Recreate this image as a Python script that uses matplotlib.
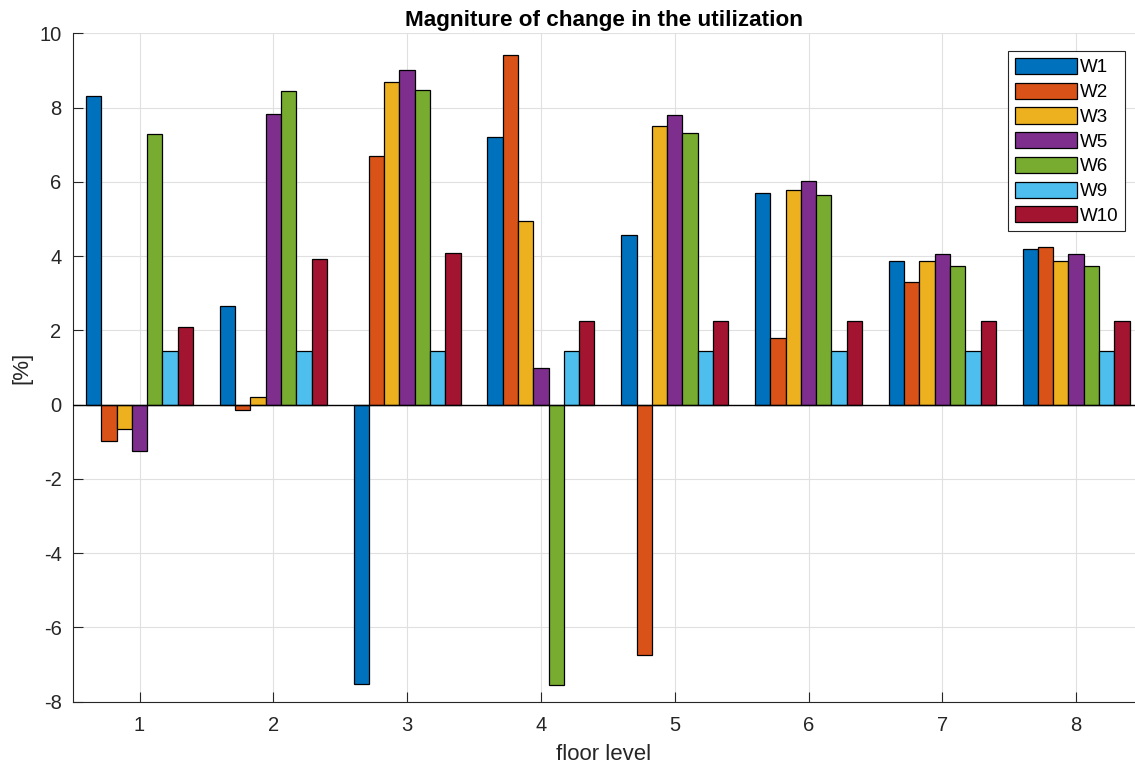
import numpy as np
import matplotlib
matplotlib.use("Agg")
import matplotlib.pyplot as plt

plt.rcParams['font.family'] = ['Liberation Sans', 'DejaVu Sans']
plt.rcParams['axes.unicode_minus'] = False

floors = [1, 2, 3, 4, 5, 6, 7, 8]
series_names = ['W1', 'W2', 'W3', 'W5', 'W6', 'W9', 'W10']

w1 = [8.31, 2.66, -7.52, 7.21, 4.57, 5.69, 3.88, 4.20]
w2 = [-0.97, -0.15, 6.70, 9.41, -6.74, 1.80, 3.31, 4.25]
w3 = [-0.65, 0.21, 8.70, 4.95, 7.51, 5.79, 3.88, 3.88]
w5 = [-1.26, 7.83, 9.02, 0.98, 7.79, 6.03, 4.06, 4.06]
w6 = [7.29, 8.46, 8.48, -7.55, 7.32, 5.64, 3.74, 3.74]
w9 = [1.44, 1.44, 1.44, 1.44, 1.44, 1.44, 1.44, 1.44]
w10 = [2.10, 3.92, 4.09, 2.26, 2.26, 2.26, 2.26, 2.26]

colors = ['#0072BD', '#D95319', '#EDB120', '#7E2F8E', '#77AC30', '#4DBEEE', '#A2142F']
series = [w1, w2, w3, w5, w6, w9, w10]

fig = plt.figure(figsize=(11.35, 7.65), dpi=100)
ax = fig.add_axes([0.064, 0.0827, 0.936, 0.8737])

n = len(series)
bw = 0.8 / n
x = np.array(floors, dtype=float)
for i, (vals, name, c) in enumerate(zip(series, series_names, colors)):
    offs = (i - (n - 1) / 2) * bw
    ax.bar(x + offs, vals, width=bw, color=c, edgecolor='black',
           linewidth=0.9, label=name, zorder=3)

ax.axhline(0, color='black', linewidth=1.0, zorder=4)

ax.set_xlim(0.5, 8.44)
ax.set_ylim(-8, 10)
ax.set_xticks(floors)
ax.set_yticks(np.arange(-8, 11, 2))
ax.grid(True, color='#e0e0e0', linewidth=0.8, zorder=0)
ax.set_axisbelow(True)

for s in ['top', 'right']:
    ax.spines[s].set_visible(False)
for s in ['left', 'bottom']:
    ax.spines[s].set_color('#262626')
    ax.spines[s].set_linewidth(0.8)
ax.tick_params(direction='in', length=7, width=0.8, colors='#262626',
               labelsize=14.5)
ax.tick_params(axis='x', pad=10)
ax.tick_params(axis='y', pad=8)

ax.set_title('Magniture of change in the utilization', fontsize=16.2,
             fontweight='bold', pad=5)
ax.set_xlabel('floor level', fontsize=16, color='#262626', labelpad=7)
ax.set_ylabel('[%]', fontsize=16, color='#262626', labelpad=5)

leg = ax.legend(loc='upper right', bbox_to_anchor=(0.991, 0.973), fontsize=13.5,
                handlelength=3.3, handleheight=0.95, handletextpad=0.2,
                labelspacing=0.33, borderpad=0.35, borderaxespad=0.0,
                fancybox=False, framealpha=1, edgecolor='#262626')
leg.get_frame().set_linewidth(0.8)

fig.savefig('out.png', dpi=100)
